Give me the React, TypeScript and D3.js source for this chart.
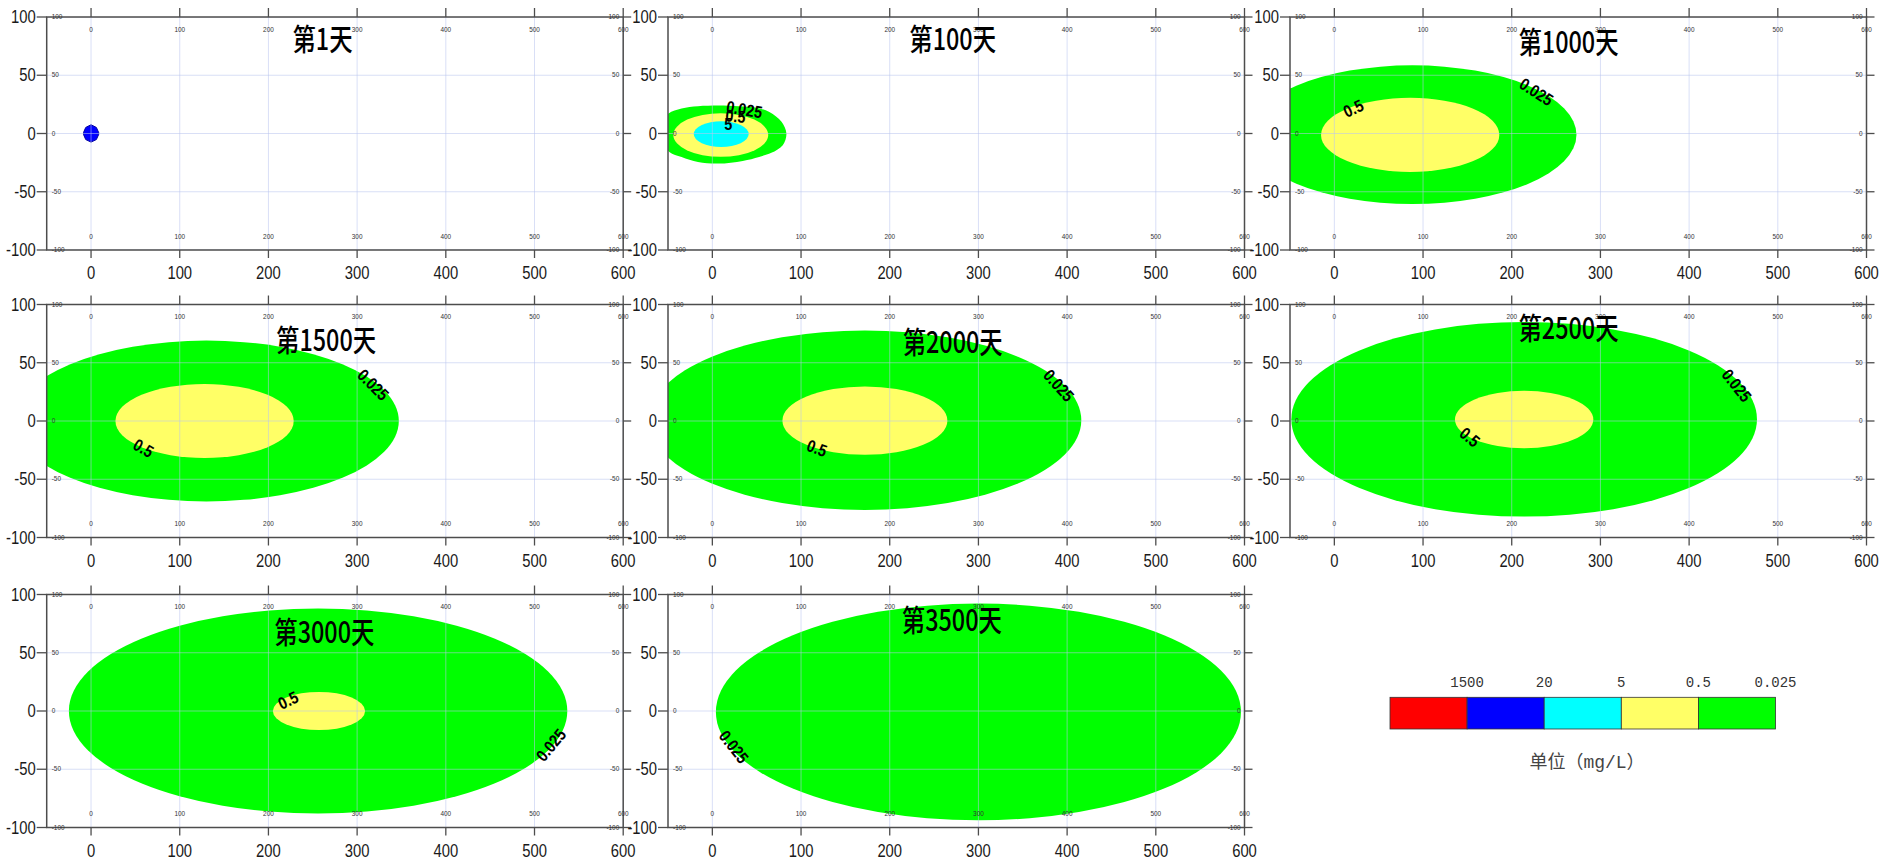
import React from "react";
import * as d3 from "d3";

// ---- values -------------------------------------------------------------
const dayTitles = ["第1天", "第100天", "第1000天", "第1500天", "第2000天", "第2500天", "第3000天", "第3500天"];
const levelValues = [1500, 20, 5, 0.5, 0.025];
const levelColors = ["#ff0000", "#0000ff", "#00ffff", "#ffff66", "#00ff00"];
const xTicks = [0, 100, 200, 300, 400, 500, 600];
const yTicks = [100, 50, 0, -50, -100];
const xDomain: [number, number] = [-50, 600];
const yDomain: [number, number] = [-100, 100];
const unitLabel = "单位（mg/L）";

type Oval = { level: number; cx: number; cy: number; rx: number; ry: number };
type Ring = { level: number; pts: [number, number][] };
type Tag = { text: string; x: number; y: number; angle: number };

// plume outlines per day (m): ovals are centre / half-length / half-width
const day1Rings: Ring[] = [
  { level: 20, pts: [[0, 7.5], [6, 5.2], [8.6, 0.8], [8.6, -0.8], [6, -5.2], [0, -7.4], [-6, -5.2], [-8.5, -0.8], [-8.5, 0.8], [-6, 5.2]] },
];
const day100Rings: Ring[] = [
  {
    level: 0.025,
    pts: [
      [-49.4, 17.2], [-34.7, 21.5], [-16.2, 23.4], [6.8, 24], [29.8, 23.4], [48.1, 22.3], [64.3, 18.5],
      [78, 10], [83.5, 0], [79.4, -10], [66.5, -16.6], [52.7, -20.1], [34.3, -23.5], [6.8, -25.8],
      [-16.2, -24.4], [-34.7, -20.1], [-48.5, -15.8], [-58, -5], [-57, 8],
    ],
  },
];
const day100Ovals: Oval[] = [
  { level: 0.5, cx: 9.5, cy: -1.3, rx: 53.5, ry: 18.7 },
  { level: 5, cx: 10, cy: -0.5, rx: 31, ry: 11 },
];
const day1000Ovals: Oval[] = [
  { level: 0.025, cx: 88, cy: -1, rx: 185, ry: 59.5 },
  { level: 0.5, cx: 85.5, cy: -1.2, rx: 100.5, ry: 31.8 },
];
const day1500Ovals: Oval[] = [
  { level: 0.025, cx: 130, cy: 0, rx: 217, ry: 69 },
  { level: 0.5, cx: 128, cy: 0, rx: 100.5, ry: 31.8 },
];
const day2000Ovals: Oval[] = [
  { level: 0.025, cx: 172, cy: 0.7, rx: 244, ry: 77 },
  { level: 0.5, cx: 172, cy: 0.3, rx: 93, ry: 29.3 },
];
const day2500Ovals: Oval[] = [
  { level: 0.025, cx: 214, cy: 1.5, rx: 262.5, ry: 83.5 },
  { level: 0.5, cx: 214, cy: 1.3, rx: 78, ry: 24.7 },
];
const day3000Ovals: Oval[] = [
  { level: 0.025, cx: 256, cy: 0, rx: 281, ry: 88 },
  { level: 0.5, cx: 257, cy: 0, rx: 52, ry: 16.4 },
];
const day3500Ovals: Oval[] = [{ level: 0.025, cx: 300, cy: -0.8, rx: 296, ry: 93 }];

// contour value tags (position in m, rotation in degrees)
const day100Tags: Tag[] = [
  { text: "0.025", x: 36, y: 20.6, angle: 10 },
  { text: "0.5", x: 26, y: 14.8, angle: 5 },
  { text: "5", x: 18, y: 8, angle: 0 },
];
const day1000Tags: Tag[] = [
  { text: "0.5", x: 21.5, y: 21.5, angle: -25 },
  { text: "0.025", x: 227.7, y: 35.7, angle: 33 },
];
const day1500Tags: Tag[] = [
  { text: "0.5", x: 59, y: -23.3, angle: 30 },
  { text: "0.025", x: 318, y: 31.1, angle: 45 },
];
const day2000Tags: Tag[] = [
  { text: "0.5", x: 118, y: -23.3, angle: 20 },
  { text: "0.025", x: 390.5, y: 30.5, angle: 48 },
];
const day2500Tags: Tag[] = [
  { text: "0.5", x: 152.6, y: -13.8, angle: 40 },
  { text: "0.025", x: 453.6, y: 30.5, angle: 52 },
];
const day3000Tags: Tag[] = [
  { text: "0.5", x: 222.3, y: 9.2, angle: -25 },
  { text: "0.025", x: 518.6, y: -29.2, angle: -50 },
];
const day3500Tags: Tag[] = [{ text: "0.025", x: 24.2, y: -30.8, angle: 52 }];

const panelRings: Ring[][] = [day1Rings, day100Rings, [], [], [], [], [], []];
const panelOvals: Oval[][] = [[], day100Ovals, day1000Ovals, day1500Ovals, day2000Ovals, day2500Ovals, day3000Ovals, day3500Ovals];
const panelTags: Tag[][] = [[], day100Tags, day1000Tags, day1500Tags, day2000Tags, day2500Tags, day3000Tags, day3500Tags];

// title anchor per panel (m)
const titleX = [261, 271, 264, 265, 271, 264, 263, 270];
const titleY = [83, 83, 80, 71.2, 69.7, 81.7, 69.7, 79.7];

// ---- layout -------------------------------------------------------------
const W = 1901;
const H = 864;
const colLeft = [46.7, 668, 1290];
const rowTop = [17, 304.5, 594.5];
const plotW = 576.5;
const plotH = 233;

const colorOf = (level: number) => levelColors[levelValues.indexOf(level)];
const NUM_FONT = "'Liberation Sans', Arimo, Arial, sans-serif";
const CJK_FONT = "'Noto Sans CJK SC', 'Noto Sans', sans-serif";

function Squeezed(props: {
  x: number; y: number; sx: number; angle?: number; size: number; anchor: string;
  text: string; weight?: string | number; family: string; fill?: string;
}) {
  const { x, y, sx, angle = 0, size, anchor, text, weight = "normal", family, fill = "#1a1a1a" } = props;
  return (
    <g transform={`translate(${x},${y}) rotate(${angle}) scale(${sx},1)`}>
      <text
        textAnchor={anchor as any}
        dominantBaseline="central"
        fontFamily={family}
        fontSize={size}
        fontWeight={weight}
        fill={fill}
      >
        {text}
      </text>
    </g>
  );
}

function Panel({ index }: { index: number }) {
  const col = index % 3;
  const row = Math.floor(index / 3);
  const left = colLeft[col];
  const top = rowTop[row];
  const x = d3.scaleLinear().domain(xDomain).range([left, left + plotW]);
  const y = d3.scaleLinear().domain(yDomain).range([top + plotH, top]);
  const clipId = `clip-${index}`;
  const ringPath = d3
    .line<[number, number]>()
    .x((d) => x(d[0]))
    .y((d) => y(d[1]))
    .curve(index === 0 ? d3.curveLinearClosed : d3.curveCatmullRomClosed.alpha(0.5));

  const x0 = x(xDomain[0]);
  const x1 = x(xDomain[1]);
  const y0 = y(yDomain[0]);
  const y1 = y(yDomain[1]);
  const frame = "#4d4d4d";

  return (
    <g>
      <defs>
        <clipPath id={clipId}>
          <rect x={x0} y={y1} width={x1 - x0} height={y0 - y1} />
        </clipPath>
      </defs>
      <g clipPath={`url(#${clipId})`}>
        {panelRings[index].map((r, i) => (
          <path
            key={`r${i}`}
            d={ringPath(r.pts) || ""}
            fill={colorOf(r.level)}
            stroke={index === 0 ? "#0000a0" : "none"}
            strokeWidth={1}
          />
        ))}
        {panelOvals[index].map((o, i) => (
          <ellipse
            key={`o${i}`}
            cx={x(o.cx)}
            cy={y(o.cy)}
            rx={x(o.cx + o.rx) - x(o.cx)}
            ry={y(o.cy) - y(o.cy + o.ry)}
            fill={colorOf(o.level)}
          />
        ))}
        {/* grid */}
        {xTicks.map((t) => (
          <line key={`gx${t}`} x1={x(t)} x2={x(t)} y1={y1} y2={y0} stroke="#b9c4ee" strokeOpacity={0.55} strokeWidth={1} />
        ))}
        {yTicks.map((t) => (
          <line key={`gy${t}`} x1={x0} x2={x1} y1={y(t)} y2={y(t)} stroke="#b9c4ee" strokeOpacity={0.55} strokeWidth={1} />
        ))}
      </g>

      {/* frame and ticks */}
      <rect x={x0} y={y1} width={x1 - x0} height={y0 - y1} fill="none" stroke={frame} strokeWidth={1.5} />
      {xTicks.map((t) => (
        <g key={`tx${t}`}>
          <line x1={x(t)} x2={x(t)} y1={y1} y2={y1 - 9} stroke={frame} strokeWidth={1.3} />
          <line x1={x(t)} x2={x(t)} y1={y0} y2={y0 + 8} stroke={frame} strokeWidth={1.3} />
        </g>
      ))}
      {yTicks.map((t) => (
        <g key={`ty${t}`}>
          <line x1={x0} x2={x0 - 10} y1={y(t)} y2={y(t)} stroke={frame} strokeWidth={1.3} />
          <line x1={x1} x2={x1 + 8} y1={y(t)} y2={y(t)} stroke={frame} strokeWidth={1.3} />
        </g>
      ))}

      {/* inner small labels */}
      {xTicks.map((t) => (
        <g key={`sx${t}`}>
          <Squeezed x={x(t)} y={y1 + 12.6} sx={0.82} size={7.8} anchor="middle" text={String(t)} family={NUM_FONT} fill="#333" />
          <Squeezed x={x(t)} y={y0 - 13.3} sx={0.82} size={7.8} anchor="middle" text={String(t)} family={NUM_FONT} fill="#333" />
        </g>
      ))}
      {yTicks.map((t) => (
        <g key={`sy${t}`}>
          <Squeezed x={x0 + 5} y={y(t)} sx={0.82} size={7.8} anchor="start" text={String(t)} family={NUM_FONT} fill="#333" />
          <Squeezed x={x1 - 4} y={y(t)} sx={0.82} size={7.8} anchor="end" text={String(t)} family={NUM_FONT} fill="#333" />
        </g>
      ))}

      {/* outer axis labels */}
      {xTicks.map((t) => (
        <Squeezed key={`bx${t}`} x={x(t)} y={y0 + 23} sx={0.8} size={18.5} anchor="middle" text={String(t)} family={NUM_FONT} />
      ))}
      {yTicks.map((t) => (
        <Squeezed key={`by${t}`} x={x0 - 11} y={y(t)} sx={0.8} size={18.5} anchor="end" text={String(t)} family={NUM_FONT} />
      ))}

      {/* contour value tags */}
      {panelTags[index].map((g, i) => (
        <Squeezed
          key={`tag${i}`}
          x={x(g.x)}
          y={y(g.y)}
          angle={g.angle}
          sx={0.85}
          size={17}
          anchor="middle"
          text={g.text}
          weight="bold"
          family={NUM_FONT}
          fill="#000"
        />
      ))}

      <Squeezed
        x={x(titleX[index])}
        y={y(titleY[index])}
        sx={0.78}
        size={30}
        anchor="middle"
        text={dayTitles[index]}
        family={CJK_FONT}
        weight={500}
        fill="#000"
      />
    </g>
  );
}

function Legend() {
  const cellW = 77.1;
  const left = 1390;
  const top = 697.3;
  const h = 31.7;
  const band = d3
    .scaleBand<number>()
    .domain(levelValues)
    .range([left, left + cellW * levelValues.length]);
  return (
    <g>
      {levelValues.map((v, i) => (
        <rect
          key={`c${v}`}
          x={band(v)!}
          y={top}
          width={band.bandwidth()}
          height={h}
          fill={levelColors[i]}
          stroke="#333"
          strokeWidth={0.8}
        />
      ))}
      {levelValues.map((v) => (
        <text
          key={`l${v}`}
          x={band(v)! + band.bandwidth()}
          y={687}
          textAnchor="middle"
          fontFamily="'Liberation Mono', 'DejaVu Sans Mono', monospace"
          fontSize={14}
          fill="#333"
        >
          {String(v)}
        </text>
      ))}
      <text
        x={1587}
        y={768}
        textAnchor="middle"
        fontFamily="'Liberation Mono', 'Noto Sans CJK SC', monospace"
        fontSize={18}
        fill="#444"
      >
        {unitLabel}
      </text>
    </g>
  );
}

export default function App() {
  return (
    <svg
      width={W}
      height={H}
      viewBox={`0 0 ${W} ${H}`}
      style={{ position: "absolute", left: 0, top: 0, display: "block", background: "#fff" }}
    >
      <rect x={0} y={0} width={W} height={H} fill="#fff" />
      {dayTitles.map((_, i) => (
        <Panel key={i} index={i} />
      ))}
      <Legend />
    </svg>
  );
}
